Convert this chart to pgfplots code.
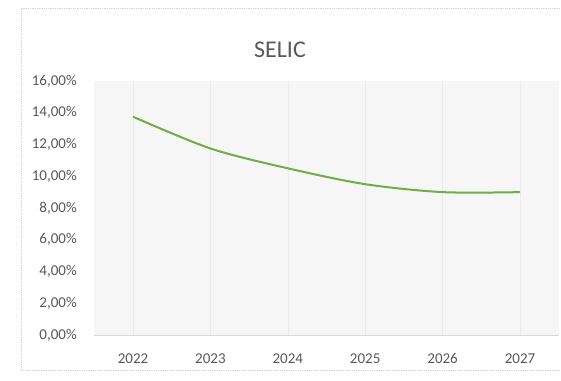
\documentclass[border=0pt]{standalone}
\usepackage{pgfplots}
\pgfplotsset{compat=1.18}
\usepackage{fontspec}
\setmainfont{Carlito}
\definecolor{txt}{RGB}{89,89,89}
\definecolor{lgreen}{RGB}{112,173,71}
\begin{document}
\begin{tikzpicture}[x=1pt,y=1pt]
\useasboundingbox (0,0) rectangle (561,380);
\fill[white] (0,0) rectangle (561,380);
\draw[gray!35, line width=0.8pt, densely dotted] (21,10) -- (21,372) -- (561,372);
\draw[gray!35, line width=0.8pt, densely dotted] (21,10) -- (561,10);
\node[text=txt, font=\fontsize{24}{27}\selectfont] at (280,330) {SELIC};
\begin{axis}[
  at={(94.3pt,45pt)}, anchor=south west,
  width=464.4pt, height=254pt, scale only axis,
  xmin=-0.5, xmax=5.5, ymin=0, ymax=16,
  xtick={0,1,2,3,4,5},
  xticklabels={2022,2023,2024,2025,2026,2027},
  ytick={0,2,4,6,8,10,12,14,16},
  yticklabels={{0,00\%},{2,00\%},{4,00\%},{6,00\%},{8,00\%},{10,00\%},{12,00\%},{14,00\%},{16,00\%}},
  axis line style={draw=none},
  axis x line*=bottom,
  axis y line*=left,
  major tick length=0pt,
  xmajorgrids, grid style={gray!16, line width=0.6pt},
  ticklabel style={text=txt, font=\fontsize{15}{17}\selectfont},
  yticklabel style={xshift=-14pt},
  xticklabel style={yshift=-15pt},
  axis background/.style={fill=gray!7},
  clip=false,
]
\draw[gray!30, line width=0.8pt] (axis cs:-0.5,0) -- (axis cs:5.5,0);
\addplot[lgreen, line width=2pt, smooth, tension=0.5] coordinates {
  (0,13.75) (1,11.75) (2,10.5) (3,9.5) (4,9.0) (5,9.0)
};
\end{axis}
\end{tikzpicture}
\end{document}
